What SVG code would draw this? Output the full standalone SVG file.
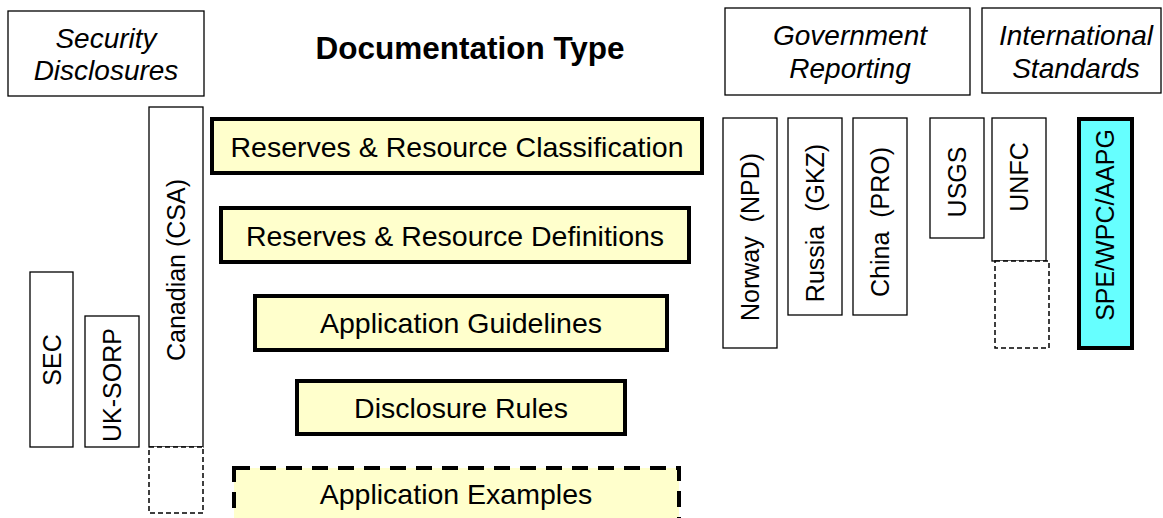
<svg xmlns="http://www.w3.org/2000/svg" width="1163" height="518" viewBox="0 0 1163 518">
<style>
text{font-family:"Liberation Sans",Arial,sans-serif;fill:#000}
.hdr{fill:#fff;stroke:#000;stroke-width:1.3}
.hd{font-size:28px;font-style:italic;text-anchor:middle}
.col{fill:#fff;stroke:#000;stroke-width:1.3}
.dash{fill:#fff;stroke:#000;stroke-width:1.5;stroke-dasharray:5,3}
.vt{font-size:25px;text-anchor:middle;dominant-baseline:central}
.doc{fill:#ffffcc;stroke:#000;stroke-width:4}
.docd{fill:#ffffcc;stroke:#000;stroke-width:4;stroke-dasharray:16,10}
.dt{font-size:28.5px;text-anchor:middle;dominant-baseline:central}
</style>
<rect width="1163" height="518" fill="#fff"/>
<g id="security-disclosures">
<rect class="hdr" x="8" y="11" width="196" height="85"/>
<text class="hd" x="106" y="48">Security</text>
<text class="hd" x="106" y="80">Disclosures</text>
</g>
<g id="documentation-type">
<text x="470" y="59" font-size="31.5" font-weight="bold" text-anchor="middle">Documentation Type</text>
</g>
<g id="government-reporting">
<rect class="hdr" x="725" y="8" width="245" height="87"/>
<text class="hd" x="850" y="45">Government</text>
<text class="hd" x="850" y="78">Reporting</text>
</g>
<g id="international-standards">
<rect class="hdr" x="982" y="8" width="179" height="85"/>
<text class="hd" x="1076" y="45">International</text>
<text class="hd" x="1076" y="78">Standards</text>
</g>
<g id="sec">
<rect class="col" x="30" y="272" width="43" height="175"/>
<text class="vt" transform="translate(52,360) rotate(-90)">SEC</text>
</g>
<g id="uk-sorp">
<rect class="col" x="85" y="316" width="54" height="131"/>
<text class="vt" transform="translate(112,385) rotate(-90)">UK-SORP</text>
</g>
<g id="canadian-csa">
<rect class="col" x="149" y="107" width="54" height="340"/>
<rect class="dash" x="149" y="447" width="54" height="66"/>
<text class="vt" transform="translate(176,270) rotate(-90)">Canadian (CSA)</text>
</g>
<g id="reserves-classification">
<rect class="doc" x="212" y="119" width="490" height="54"/>
<text class="dt" x="457" y="147">Reserves &amp; Resource Classification</text>
</g>
<g id="reserves-definitions">
<rect class="doc" x="221" y="208" width="468" height="54"/>
<text class="dt" x="455" y="236">Reserves &amp; Resource Definitions</text>
</g>
<g id="application-guidelines">
<rect class="doc" x="255" y="296" width="412" height="54"/>
<text class="dt" x="461" y="323">Application Guidelines</text>
</g>
<g id="disclosure-rules">
<rect class="doc" x="297" y="381" width="328" height="53"/>
<text class="dt" x="461" y="408">Disclosure Rules</text>
</g>
<g id="application-examples">
<rect class="docd" x="234" y="468" width="445" height="56"/>
<text class="dt" x="456" y="494">Application Examples</text>
</g>
<g id="norway-npd">
<rect class="col" x="723" y="118" width="54" height="230"/>
<text class="vt" transform="translate(750,237) rotate(-90)" xml:space="preserve">Norway  (NPD)</text>
</g>
<g id="russia-gkz">
<rect class="col" x="788" y="118" width="54" height="197"/>
<text class="vt" transform="translate(815,223) rotate(-90)" xml:space="preserve">Russia  (GKZ)</text>
</g>
<g id="china-pro">
<rect class="col" x="853" y="118" width="54" height="197"/>
<text class="vt" transform="translate(880,222) rotate(-90)" xml:space="preserve">China  (PRO)</text>
</g>
<g id="usgs">
<rect class="col" x="930" y="118" width="54" height="120"/>
<text class="vt" transform="translate(957,182) rotate(-90)">USGS</text>
</g>
<g id="unfc">
<rect class="col" x="992" y="118" width="54" height="143"/>
<rect class="dash" x="995" y="261" width="54" height="87"/>
<text class="vt" transform="translate(1019,177) rotate(-90)">UNFC</text>
</g>
<g id="spe-wpc-aapg">
<rect x="1079" y="119" width="53" height="229" fill="#66ffff" stroke="#000" stroke-width="4"/>
<text class="vt" transform="translate(1105,225) rotate(-90)">SPE/WPC/AAPG</text>
</g>
<g id="connectors"></g>
</svg>
